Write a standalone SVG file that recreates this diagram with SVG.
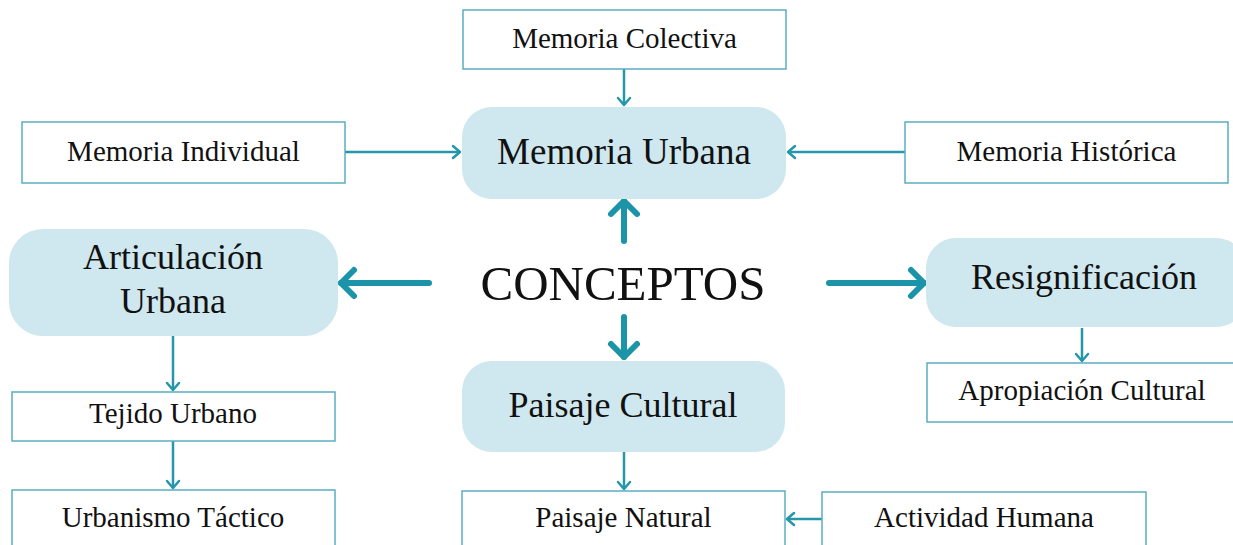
<svg xmlns="http://www.w3.org/2000/svg" width="1233" height="545" viewBox="0 0 1233 545">
<style>
  .box { fill: #ffffff; stroke: #5aafc1; stroke-width: 1.5; }
  .main { fill: #cfe7ee; stroke: none; }
  .t { font-family: "Liberation Serif", "Times New Roman", serif; fill: #111111; text-anchor: middle; }
  .s { font-size: 29px; }
  .l { font-size: 36px; }
  .c { font-size: 49px; }
  .thin { stroke: #2596ab; stroke-width: 2.5; fill: none; marker-end: url(#ah); }
  .thick { stroke: #1b93a8; stroke-width: 6; fill: none; marker-end: url(#ahb); stroke-linecap: round; }
</style>
<defs>
  <marker id="ah" markerUnits="userSpaceOnUse" viewBox="-12 -10 14 20" refX="0" refY="0" markerWidth="14" markerHeight="20" orient="auto" overflow="visible">
    <path d="M-7,-6 L0,0 L-7,6" fill="none" stroke="#2596ab" stroke-width="2.5" stroke-linecap="round" stroke-linejoin="round"/>
  </marker>
  <marker id="ahb" markerUnits="userSpaceOnUse" viewBox="-20 -18 24 36" refX="0" refY="0" markerWidth="24" markerHeight="36" orient="auto" overflow="visible">
    <path d="M-13,-13 L0,0 L-13,13" fill="none" stroke="#1b93a8" stroke-width="6" stroke-linecap="round" stroke-linejoin="round"/>
  </marker>
</defs>
<rect width="1233" height="545" fill="#ffffff"/>

<g id="connectors">
  <line class="thin" x1="624" y1="69" x2="624" y2="105"/>
  <line class="thin" x1="345" y1="152" x2="460" y2="152"/>
  <line class="thin" x1="905" y1="152" x2="788" y2="152"/>
  <line class="thin" x1="173" y1="336" x2="173" y2="390"/>
  <line class="thin" x1="173" y1="441" x2="173" y2="488"/>
  <line class="thin" x1="1082" y1="328" x2="1082" y2="361"/>
  <line class="thin" x1="624" y1="452" x2="624" y2="489"/>
  <line class="thin" x1="822" y1="519" x2="787" y2="519"/>
  <line class="thick" x1="624" y1="241" x2="624" y2="201"/>
  <line class="thick" x1="429" y1="283" x2="341" y2="283"/>
  <line class="thick" x1="829" y1="283" x2="924" y2="283"/>
  <line class="thick" x1="624" y1="317" x2="624" y2="357"/>
</g>

<g id="memoria-colectiva">
  <rect class="box" x="463" y="10" width="323" height="59"/>
  <text class="t s" x="624.5" y="48">Memoria Colectiva</text>
</g>
<g id="memoria-urbana">
  <rect class="main" x="462" y="107" width="324" height="92" rx="30" ry="30"/>
  <text class="t l" x="624" y="164" style="font-size:37px">Memoria Urbana</text>
</g>
<g id="memoria-individual">
  <rect class="box" x="22" y="122" width="323" height="61"/>
  <text class="t s" x="183.5" y="161">Memoria Individual</text>
</g>
<g id="memoria-historica">
  <rect class="box" x="905" y="122" width="323" height="61"/>
  <text class="t s" x="1066.5" y="161">Memoria Histórica</text>
</g>
<g id="articulacion-urbana">
  <rect class="main" x="9" y="229" width="329" height="107" rx="34" ry="34"/>
  <text class="t l" x="173" y="269">Articulación</text>
  <text class="t l" x="173" y="313">Urbana</text>
</g>
<g id="conceptos">
  <text class="t c" x="623" y="300">CONCEPTOS</text>
</g>
<g id="resignificacion">
  <rect class="main" x="926" y="238" width="320" height="89" rx="30" ry="30"/>
  <text class="t l" x="1084" y="289">Resignificación</text>
</g>
<g id="apropiacion-cultural">
  <rect class="box" x="927" y="363" width="320" height="59"/>
  <text class="t s" x="1082" y="400">Apropiación Cultural</text>
</g>
<g id="paisaje-cultural">
  <rect class="main" x="462" y="361" width="323" height="91" rx="30" ry="30"/>
  <text class="t l" x="623" y="417">Paisaje Cultural</text>
</g>
<g id="tejido-urbano">
  <rect class="box" x="12" y="392" width="323" height="49"/>
  <text class="t s" x="173" y="423">Tejido Urbano</text>
</g>
<g id="urbanismo-tactico">
  <rect class="box" x="12" y="490" width="323" height="70"/>
  <text class="t s" x="173" y="527">Urbanismo Táctico</text>
</g>
<g id="paisaje-natural">
  <rect class="box" x="462" y="491" width="323" height="70"/>
  <text class="t s" x="623.5" y="527">Paisaje Natural</text>
</g>
<g id="actividad-humana">
  <rect class="box" x="822" y="492" width="324" height="70"/>
  <text class="t s" x="984" y="527">Actividad Humana</text>
</g>
</svg>
